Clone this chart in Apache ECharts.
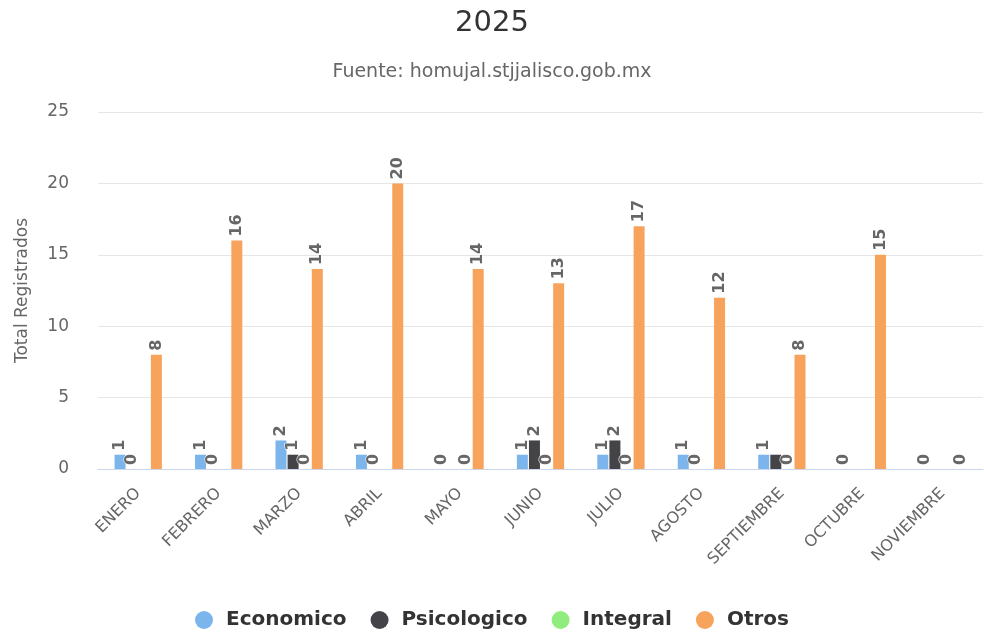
<!DOCTYPE html>
<html>
<head>
<meta charset="utf-8">
<script src="https://cdn.jsdelivr.net/npm/echarts@6/dist/echarts.min.js"></script>
<style>
  html, body { margin: 0; padding: 0; background: #fff; }
  #main { width: 984px; height: 637px; }
</style>
</head>
<body>
<div id="main"></div>
<script>
// datos por mes
var meses = ['ENERO', 'FEBRERO', 'MARZO', 'ABRIL', 'MAYO', 'JUNIO', 'JULIO', 'AGOSTO', 'SEPTIEMBRE', 'OCTUBRE', 'NOVIEMBRE']
var economico = [1, 1, 2, 1, 0, 1, 1, 1, 1, 0, 0]
var psicologico = [0, 0, 1, 0, 0, 2, 2, 0, 1, 0, 0]
var integral = [0, 0, 0, 0, 0, 0, 0, 0, 0, 0, 0]
var otros = [8, 16, 14, 20, 14, 13, 17, 12, 8, 15, 0]
// etiquetas que no se ven en el original (se enciman)
var ocultasPsicologico = [4, 8, 9, 10]
var ocultasIntegral = [0, 1, 3, 7, 9, 10]

var fuente = 'DejaVu Sans'

function armar(valores, ocultas) {
  return valores.map(function (v, i) {
    if (ocultas.indexOf(i) >= 0) return { value: v, label: { show: false } }
    return v
  })
}

function serie(nombre, color, datos) {
  return {
    name: nombre,
    type: 'bar',
    barWidth: 11,
    barGap: '10%',
    itemStyle: { color: color },
    label: {
      show: true,
      position: 'top',
      rotate: 90,
      align: 'left',
      verticalAlign: 'middle',
      distance: 4,
      color: '#666',
      fontFamily: fuente,
      fontWeight: 'bold',
      fontSize: 16,
      textBorderColor: '#fff',
      textBorderWidth: 1
    },
    data: datos
  }
}

var myChart = echarts.init(document.getElementById('main'))
var option = {
  animation: false,
  title: {
    text: '2025',
    subtext: 'Fuente: homujal.stjjalisco.gob.mx',
    left: 'center',
    top: 4,
    itemGap: 25,
    textStyle: { fontFamily: fuente, fontSize: 29, fontWeight: 'normal', color: '#333' },
    subtextStyle: { fontFamily: fuente, fontSize: 19, color: '#666' }
  },
  legend: {
    bottom: 2,
    icon: 'circle',
    itemWidth: 18,
    itemHeight: 18,
    itemGap: 24,
    textStyle: { fontFamily: fuente, fontSize: 20, fontWeight: 'bold', color: '#333', padding: [0, 0, 0, 8] },
    data: ['Economico', 'Psicologico', 'Integral', 'Otros']
  },
  grid: { left: 98, right: 1, top: 112, bottom: 168 },
  xAxis: {
    type: 'category',
    data: meses,
    axisLine: { lineStyle: { color: '#ccd6eb' } },
    axisTick: { length: 15, lineStyle: { color: '#ccd6eb' } },
    axisLabel: { rotate: 45, margin: 22, fontFamily: fuente, fontSize: 16, color: '#666' }
  },
  yAxis: {
    type: 'value',
    min: 0,
    max: 25,
    interval: 5,
    name: 'Total Registrados',
    nameLocation: 'middle',
    nameGap: 67,
    nameTextStyle: { fontFamily: fuente, fontSize: 17, color: '#666' },
    axisLabel: { margin: 29, fontFamily: fuente, fontSize: 17, color: '#666' },
    splitLine: { lineStyle: { color: '#e6e6e6' } }
  },
  series: [
    serie('Economico', '#7cb5ec', economico),
    serie('Psicologico', '#434348', armar(psicologico, ocultasPsicologico)),
    serie('Integral', '#90ed7d', armar(integral, ocultasIntegral)),
    serie('Otros', '#f7a35c', otros)
  ]
}
myChart.setOption(option)
</script>
</body>
</html>
